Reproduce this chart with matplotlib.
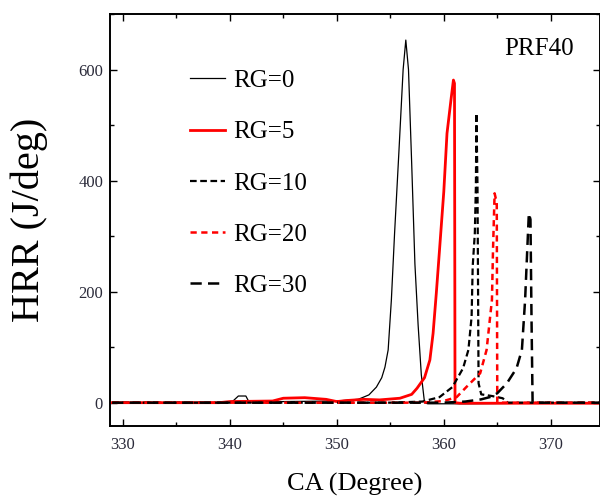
import matplotlib
matplotlib.use("Agg")
import matplotlib.pyplot as plt
from matplotlib.ticker import MultipleLocator

# HRR curves (CA in degrees, HRR in J/deg)
rg0_x = [329, 339.5, 340.3, 340.8, 341.5, 341.8, 345, 350, 352, 353, 353.7, 354.2, 354.5,
         354.8, 355.1, 355.4, 355.8, 356.2, 356.45, 356.7, 357.0, 357.3, 357.6, 357.9,
         358.2, 358.5, 362, 375]
rg0_y = [0, 0, 3, 12, 12, 1, 2, 3, 6, 14, 28, 45, 64, 95, 185, 305, 450, 600, 653, 600,
         430, 250, 140, 50, 0, -2, -2, 0]

rg5_x = [329, 339, 340, 344, 345, 347, 349, 350, 351, 352.5, 354, 355.9, 357, 357.5, 358.2,
         358.7, 359.0, 359.3, 359.6, 360.0, 360.3, 360.7, 360.9, 361.0, 361.05, 361.5, 375]
rg5_y = [0, 0, 2, 3, 8, 9, 6, 2, 4, 6, 5, 8, 15, 26, 45, 77, 125, 197, 275, 380, 485, 550,
         581, 575, 0, -1, -1]

rg10_x = [329, 350, 355, 358, 359.6, 360.8, 361.8, 362.3, 362.6, 362.7, 362.9, 363.0,
          363.05, 363.15, 363.25, 363.5, 364.5, 365.5, 366, 375]
rg10_y = [0, 0, 0, 2, 10, 28, 62, 95, 155, 245, 305, 390, 521, 390, 35, 15, 12, 8, 0, 0]

rg20_x = [329, 358, 360, 361.2, 362.1, 363.4, 364.0, 364.5, 364.6, 364.75, 364.95, 365.0,
          365.1, 375]
rg20_y = [0, 0, 3, 10, 28, 53, 95, 185, 275, 377, 360, 0, 0, 0]

rg30_x = [329, 360, 362, 363.5, 364.3, 365.0, 365.9, 366.8, 367.3, 367.6, 367.8, 367.95,
          368.1, 368.2, 368.3, 375]
rg30_y = [0, 0, 2, 6, 10, 17, 35, 62, 95, 185, 275, 341, 330, 150, 0, 0]

labels = ["RG=0", "RG=5", "RG=10", "RG=20", "RG=30"]

plt.rcParams["font.family"] = ["Liberation Serif", "DejaVu Serif"]

fig = plt.figure(figsize=(6.0, 4.99), dpi=100)
ax = fig.add_axes([0.1833, 0.1463, 0.8167, 0.8257])

ax.plot(rg0_x, rg0_y, color="black", lw=0.9, label=labels[0])
ax.plot(rg5_x, rg5_y, color="red", lw=2.0, label=labels[1])
ax.plot(rg10_x, rg10_y, color="black", lw=1.6, dashes=(3, 1.6), label=labels[2])
ax.plot(rg20_x, rg20_y, color="red", lw=1.8, dashes=(2.5, 1.8), label=labels[3])
ax.plot(rg30_x, rg30_y, color="black", lw=1.8, dashes=(4.5, 2.5), label=labels[4])

ax.set_xlim(328.8, 374.6)
ax.set_ylim(-42, 700)
ax.xaxis.set_major_locator(MultipleLocator(10))
ax.xaxis.set_minor_locator(MultipleLocator(5))
ax.yaxis.set_major_locator(MultipleLocator(200))
ax.yaxis.set_minor_locator(MultipleLocator(100))
ax.tick_params(which="both", direction="in", top=True, right=True, width=1.0,
               labelsize=12, colors="black", labelcolor="#2b2b3a")
ax.tick_params(axis="x", which="major", length=5, pad=8)
ax.tick_params(axis="y", which="major", length=5, pad=5)
ax.tick_params(which="minor", length=3)
for s in ax.spines.values():
    s.set_linewidth(1.4)

ax.set_xlabel("CA (Degree)", fontsize=19, labelpad=14)
ax.set_ylabel("HRR (J/deg)", fontsize=29, labelpad=22)

ax.text(0.876, 0.915, "PRF40", transform=ax.transAxes, fontsize=18,
        ha="center", va="center")

ax.legend(loc="upper left", bbox_to_anchor=(0.164, 0.865), frameon=False, fontsize=18,
          handlelength=1.4, handletextpad=0.3, labelspacing=1.15, borderpad=0,
          borderaxespad=0)

fig.savefig("out.png", dpi=100)
